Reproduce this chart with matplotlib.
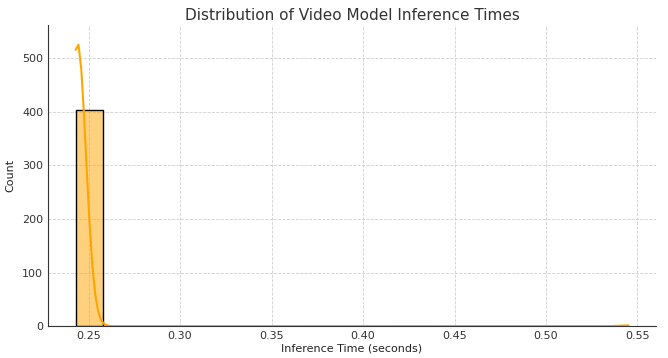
import numpy as np
import matplotlib
matplotlib.use('Agg')
import matplotlib.pyplot as plt
import seaborn as sns

# inference times (seconds) and how many runs landed on each
time_values = [0.2430, 0.2435, 0.2440, 0.2445, 0.2450, 0.2455, 0.2465, 0.2480, 0.2500, 0.5450]
time_counts = [50, 110, 120, 70, 30, 12, 6, 3, 2, 1]

inference_times = np.repeat(time_values, time_counts)

fig, ax = plt.subplots(figsize=(6.68, 3.58), dpi=100)
sns.histplot(inference_times, bins=20, kde=True, color='orange',
             edgecolor='black', alpha=0.5, ax=ax,
             line_kws={'linewidth': 1.5})
ax.set_ylim(0, 562)
ax.grid(True, linestyle='--', linewidth=0.6, color='#d0d0d0')
ax.set_axisbelow(True)
for side in ['top', 'right']:
    ax.spines[side].set_visible(False)
for side in ['left', 'bottom']:
    ax.spines[side].set_color('#333333')
ax.tick_params(colors='#333333', labelsize=8, length=0, pad=3.5)
ax.set_title('Distribution of Video Model Inference Times', fontsize=11, color='#333333', pad=4)
ax.set_xlabel('Inference Time (seconds)', fontsize=8, color='#222222', labelpad=2)
ax.set_ylabel('Count', fontsize=8, color='#222222', labelpad=5)
ax.set_xticks([0.25, 0.30, 0.35, 0.40, 0.45, 0.50, 0.55])
fig.subplots_adjust(left=0.072, right=0.982, top=0.93, bottom=0.089)
fig.savefig('out.png', dpi=100)
